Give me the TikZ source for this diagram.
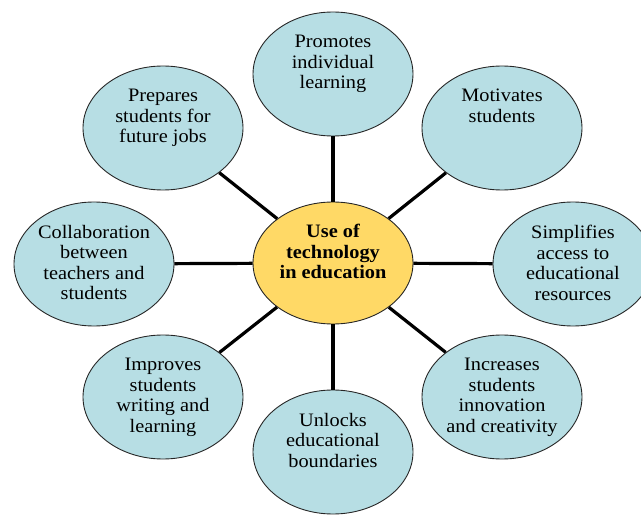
\documentclass[tikz,border=0pt]{standalone}
\usepackage{fontspec}
\setmainfont{Liberation Serif}
\newfontfamily\bubfont[FakeStretch=1.07]{Liberation Serif}
\usetikzlibrary{shapes.geometric,calc}
\definecolor{bubblue}{HTML}{B7DEE4}
\definecolor{hubyellow}{HTML}{FFD966}
\begin{document}
\begin{tikzpicture}[x=1pt,y=-1pt,
  bub/.style={ellipse,draw=black!85,line width=0.9pt,fill=bubblue,minimum width=160pt,minimum height=124pt,inner sep=0pt},
  hub/.style={ellipse,draw=black!85,line width=0.9pt,fill=hubyellow,minimum width=160pt,minimum height=122pt,inner sep=0pt},
  lbl/.style={anchor=north,align=center,inner sep=0pt,font=\bubfont\fontsize{19}{20.5}\selectfont},
  link/.style={line width=3.2pt,black}]
\useasboundingbox (0,0) rectangle (641,516);
\clip (0,0) rectangle (641,516);
\node[hub] (c) at (333,263) {};
\node[bub] (e1) at (333,74) {};
\node[bub] (e2) at (502,128) {};
\node[bub] (e3) at (573,264) {};
\node[bub] (e4) at (502,397) {};
\node[bub] (e5) at (333,452) {};
\node[bub] (e6) at (163,397) {};
\node[bub] (e7) at (94,264) {};
\node[bub] (e8) at (163,128) {};
\foreach \i in {1,...,8} {\draw[link] (c) -- (e\i);}
\node[lbl,font=\bubfont\fontsize{19}{20.5}\selectfont\bfseries] (tc) at ($(c.center)+(0,-39)$) {Use of\\technology\\in education};
\node[lbl] (t1) at ($(e1.center)+(0,-39)$) {Promotes\\individual\\learning};
\node[lbl] (t2) at ($(e2.center)+(0,-39)$) {Motivates\\students};
\node[lbl] (t3) at ($(e3.center)+(0,-39)$) {Simplifies\\access to\\educational\\resources};
\node[lbl] (t4) at ($(e4.center)+(0,-39)$) {Increases\\students\\innovation\\and creativity};
\node[lbl] (t5) at ($(e5.center)+(0,-39)$) {Unlocks\\educational\\boundaries};
\node[lbl] (t6) at ($(e6.center)+(0,-39)$) {Improves\\students\\writing and\\learning};
\node[lbl] (t7) at ($(e7.center)+(0,-39)$) {Collaboration\\between\\teachers and\\students};
\node[lbl] (t8) at ($(e8.center)+(0,-39)$) {Prepares\\students for\\future jobs};
\end{tikzpicture}
\end{document}
